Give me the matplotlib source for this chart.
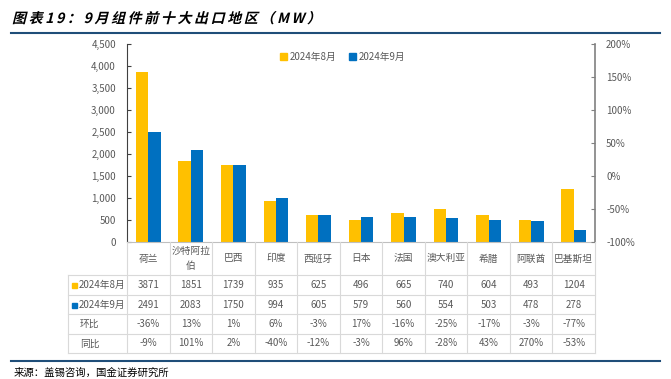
import matplotlib
matplotlib.use('Agg')
import matplotlib.pyplot as plt
import matplotlib.transforms as mtransforms
from matplotlib.lines import Line2D
from matplotlib.patches import Rectangle, PathPatch
from matplotlib.textpath import TextPath, text_to_path
from matplotlib.font_manager import FontProperties
from matplotlib.ticker import FuncFormatter, MultipleLocator
import numpy as np

plt.rcParams['font.family'] = ['Noto Sans CJK SC', 'DejaVu Sans']

# datos del gráfico
regiones = ['荷兰', '沙特阿拉\n伯', '巴西', '印度', '西班牙', '日本', '法国', '澳大利亚', '希腊', '阿联酋', '巴基斯坦']
ago_2024 = [3871, 1851, 1739, 935, 625, 496, 665, 740, 604, 493, 1204]
sep_2024 = [2491, 2083, 1750, 994, 605, 579, 560, 554, 503, 478, 278]
huanbi = ['-36%', '13%', '1%', '6%', '-3%', '17%', '-16%', '-25%', '-17%', '-3%', '-77%']
tongbi = ['-9%', '101%', '2%', '-40%', '-12%', '-3%', '96%', '-28%', '43%', '270%', '-53%']
series_names = ['2024年8月', '2024年9月']
titulo = '图表19：9月组件前十大出口地区（MW）'
fuente = '来源：盖锡咨询，国金证券研究所'

C_ORANGE = '#FFC000'
C_BLUE = '#0070C0'
C_TEXT = '#595959'
C_GRID = '#D9D9D9'
C_RULE = '#1F4E79'

W, H = 671, 379
fig = plt.figure(figsize=(W / 100, H / 100), dpi=100)


def fy(y):
    # pasa coordenada y en píxeles (desde arriba) a fracción de figura
    return 1 - y / H


def fx(x):
    return x / W


# ejes principales
ax = fig.add_axes([fx(127), fy(242), fx(595) - fx(127), fy(44) - fy(242)])
x = np.arange(len(regiones))
bw = 0.29
ax.bar(x - bw / 2, ago_2024, bw, color=C_ORANGE, label=series_names[0])
ax.bar(x + bw / 2, sep_2024, bw, color=C_BLUE, label=series_names[1])
ax.set_xlim(-0.5, len(regiones) - 0.5)
ax.set_ylim(0, 4500)
ax.yaxis.set_major_locator(MultipleLocator(500))
ax.yaxis.set_major_formatter(FuncFormatter(lambda v, p: f'{int(v):,}'))
ax.set_xticks([])
ax.tick_params(axis='y', direction='in', length=3, labelsize=7, labelcolor=C_TEXT, color='#404040', pad=8)
for s in ['top', 'right']:
    ax.spines[s].set_visible(False)
ax.spines['left'].set_color('#404040')
ax.spines['bottom'].set_color('#BFBFBF')

# eje derecho (porcentaje)
ax2 = ax.twinx()
ax2.set_ylim(-1.0, 2.0)
ax2.yaxis.set_major_locator(MultipleLocator(0.5))
ax2.yaxis.set_major_formatter(FuncFormatter(lambda v, p: f'{v * 100:.0f}%'))
ax2.tick_params(axis='y', direction='in', length=3, labelsize=7, labelcolor=C_TEXT, color='#808080', pad=8)
for s in ['top', 'left', 'bottom']:
    ax2.spines[s].set_visible(False)
ax2.spines['right'].set_color('#808080')
ax2.spines['right'].set_linewidth(1.2)

# leyenda superior
fig.legend(handles=[Rectangle((0, 0), 1, 1, color=C_ORANGE), Rectangle((0, 0), 1, 1, color=C_BLUE)],
           labels=series_names, loc='center', bbox_to_anchor=(fx(343), fy(57)), ncol=2,
           frameon=False, fontsize=7, labelcolor=C_TEXT, handlelength=0.7, handleheight=0.7,
           handletextpad=0.3, columnspacing=1.3)

# tabla de datos
trans = mtransforms.blended_transform_factory(ax.transData, fig.transFigure)
row_y = [242, 275, 295, 314, 334, 353]
tx0, tx1 = fx(68), fx(595)


def hline(y, x0, x1):
    fig.add_artist(Line2D([x0, x1], [fy(y), fy(y)], color=C_GRID, lw=0.8, transform=fig.transFigure))


for y in row_y[1:]:
    hline(y, tx0, tx1)
# líneas verticales
for i in range(len(regiones) + 1):
    xb = i - 0.5
    fig.add_artist(Line2D([xb, xb], [fy(242), fy(353)], color=C_GRID, lw=0.8, transform=trans))
fig.add_artist(Line2D([tx0, tx0], [fy(275), fy(353)], color=C_GRID, lw=0.8, transform=fig.transFigure))

rows = [ago_2024, sep_2024, huanbi, tongbi]
for i, reg in enumerate(regiones):
    fig.text(i, fy((242 + 275) / 2), reg, transform=trans, ha='center', va='center',
             fontsize=7, color=C_TEXT, linespacing=1.6)
    for r, vals in enumerate(rows):
        yc = (row_y[r + 1] + row_y[r + 2]) / 2
        fig.text(i, fy(yc), str(vals[i]), transform=trans, ha='center', va='center',
                 fontsize=7, color=C_TEXT)

# etiquetas de fila
row_labels = [series_names[0], series_names[1], '环比', '同比']
for r, lab in enumerate(row_labels):
    yc = (row_y[r + 1] + row_y[r + 2]) / 2
    if r < 2:
        col = [C_ORANGE, C_BLUE][r]
        fig.add_artist(Rectangle((fx(72), fy(yc + 3)), fx(5), fy(0) - fy(5), color=col,
                                 transform=fig.transFigure))
        fig.text(fx(79), fy(yc), lab, ha='left', va='center', fontsize=7, color=C_TEXT)
    else:
        fig.text(fx(80), fy(yc), lab, ha='left', va='center', fontsize=7, color=C_TEXT)

# título en cursiva (inclinado a mano, las fuentes CJK no tienen itálica)
fp = FontProperties(family='Noto Sans CJK SC', weight='bold', size=14)
cx = 12
for ch in titulo:
    tp = TextPath((0, 0), ch, size=14, prop=fp)
    adv = text_to_path.get_text_width_height_descent(ch, fp, ismath=False)[0]
    tr = mtransforms.Affine2D().skew_deg(14, 0).translate(cx, H - 23)
    fig.add_artist(PathPatch(tp, transform=tr, color='black', lw=0))
    cx += adv + 2.6

fig.add_artist(Line2D([fx(11), fx(660)], [fy(33), fy(33)], color=C_RULE, lw=1.5, transform=fig.transFigure))
fig.add_artist(Line2D([fx(11), fx(660)], [fy(361), fy(361)], color=C_RULE, lw=1.5, transform=fig.transFigure))
fig.text(fx(14), fy(373), fuente, ha='left', va='center', fontsize=7.5, color='black')

plt.savefig('out.png', dpi=100)
plt.close()
